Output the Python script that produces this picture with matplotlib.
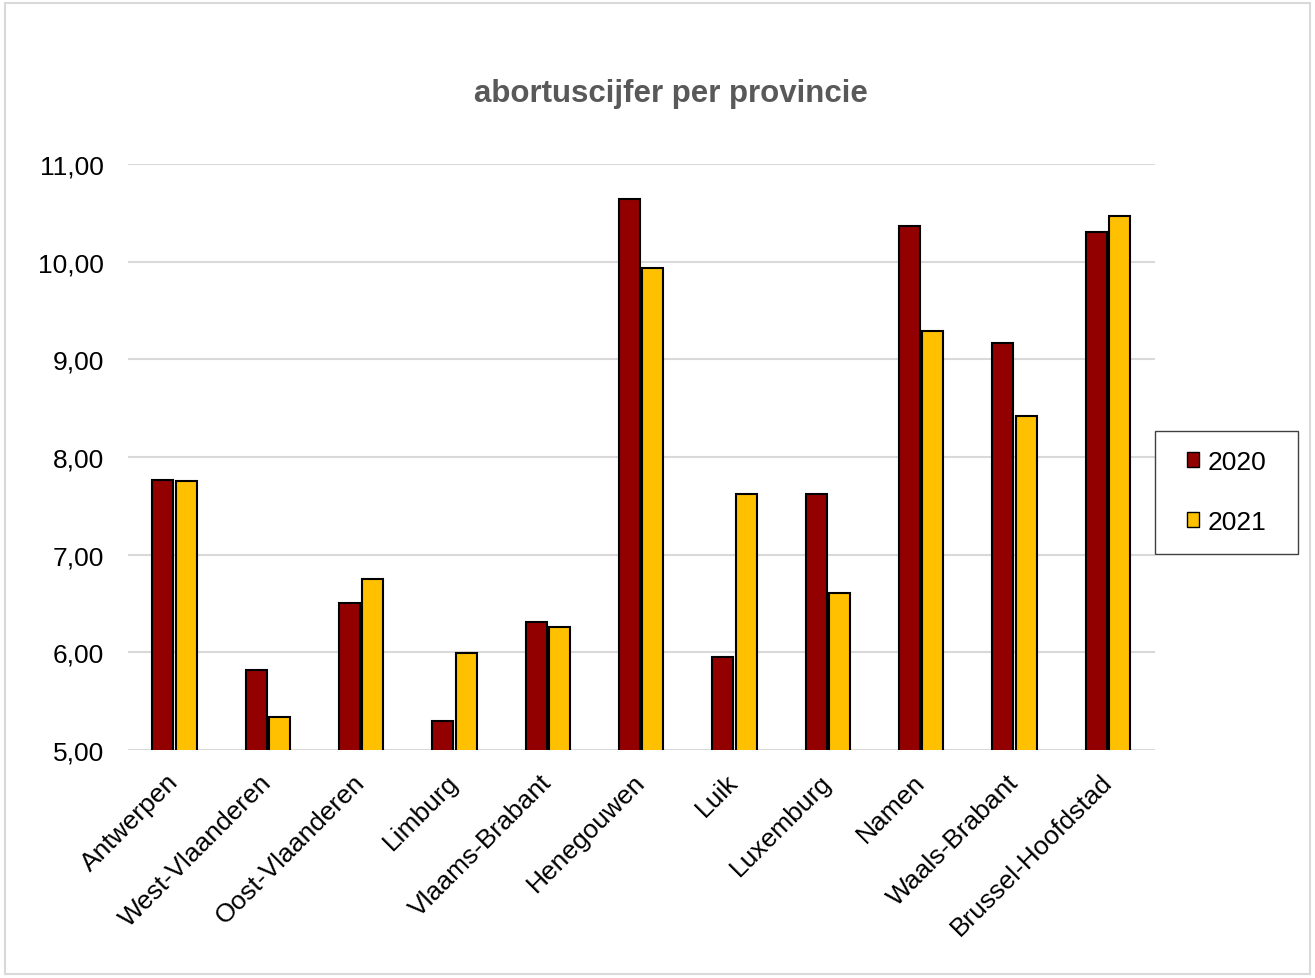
import numpy as np
import matplotlib
matplotlib.use("Agg")
import matplotlib.pyplot as plt
import matplotlib.patches as mpatches
from matplotlib.ticker import FuncFormatter

plt.rcParams['font.family'] = ['Liberation Sans', 'DejaVu Sans']

provinces = ["Antwerpen", "West-Vlaanderen", "Oost-Vlaanderen", "Limburg",
             "Vlaams-Brabant", "Henegouwen", "Luik", "Luxemburg", "Namen",
             "Waals-Brabant", "Brussel-Hoofdstad"]
vals_2020 = [7.76, 5.82, 6.50, 5.30, 6.31, 10.64, 5.95, 7.62, 10.36, 9.17, 10.30]
vals_2021 = [7.75, 5.34, 6.75, 5.99, 6.26, 9.93, 7.62, 6.61, 9.29, 8.42, 10.47]
series_labels = ["2020", "2021"]
colors = ["#920000", "#FFC000"]

W, H = 1315, 979
fig = plt.figure(figsize=(W / 100, H / 100), dpi=100)
ax = fig.add_axes([0.0973, 0.2329, 0.7807, 0.5986])

x = np.arange(len(provinces))
w = 0.225
ax.bar(x - 0.125, vals_2020, w, color=colors[0], edgecolor="black", linewidth=1.5,
       label=series_labels[0], zorder=3)
ax.bar(x + 0.125, vals_2021, w, color=colors[1], edgecolor="black", linewidth=1.5,
       label=series_labels[1], zorder=3)

ax.set_ylim(5, 11)
ax.set_xlim(-0.5, len(provinces) - 0.5)
ax.set_yticks(np.arange(5, 12, 1))
ax.yaxis.set_major_formatter(FuncFormatter(lambda v, p: f"{v:.2f}".replace(".", ",")))
ax.grid(axis="y", color="#d9d9d9", linewidth=1.5, zorder=0)
for s in ax.spines.values():
    s.set_visible(False)
ax.tick_params(axis="both", length=0, labelsize=19, colors="black")
ax.tick_params(axis="y", pad=17)
ax.tick_params(axis="x", pad=20)
ax.set_xticks(x)
ax.set_xticklabels(provinces, rotation=45, ha="right", va="center", rotation_mode="anchor")

fig.text(0.51, 1 - 94 / H, "abortuscijfer per provincie", ha="center", va="center",
         fontsize=22.5, fontweight="bold", color="#595959")

# legend entries without frame, box drawn separately
handles = [mpatches.Patch(facecolor=c, edgecolor="black", label=l)
           for c, l in zip(colors, series_labels)]
leg = fig.legend(handles=handles, loc="center left", bbox_to_anchor=(1187 / W, 1 - 493 / H),
                 fontsize=19, frameon=False,
                 handlelength=0.47, handleheight=0.47, handletextpad=0.3,
                 labelspacing=1.37, borderpad=0, borderaxespad=0)
fig.patches.append(mpatches.Rectangle((1155 / W, 1 - 555 / H), 143 / W, 123 / H,
                                      transform=fig.transFigure, fill=False,
                                      edgecolor="#404040", linewidth=1.0))

fig.patches.append(mpatches.Rectangle((0.004, 0.004), 0.992, 0.992, transform=fig.transFigure,
                                      fill=False, edgecolor="#d9d9d9", linewidth=1.5))

fig.savefig("out.png", dpi=100)
